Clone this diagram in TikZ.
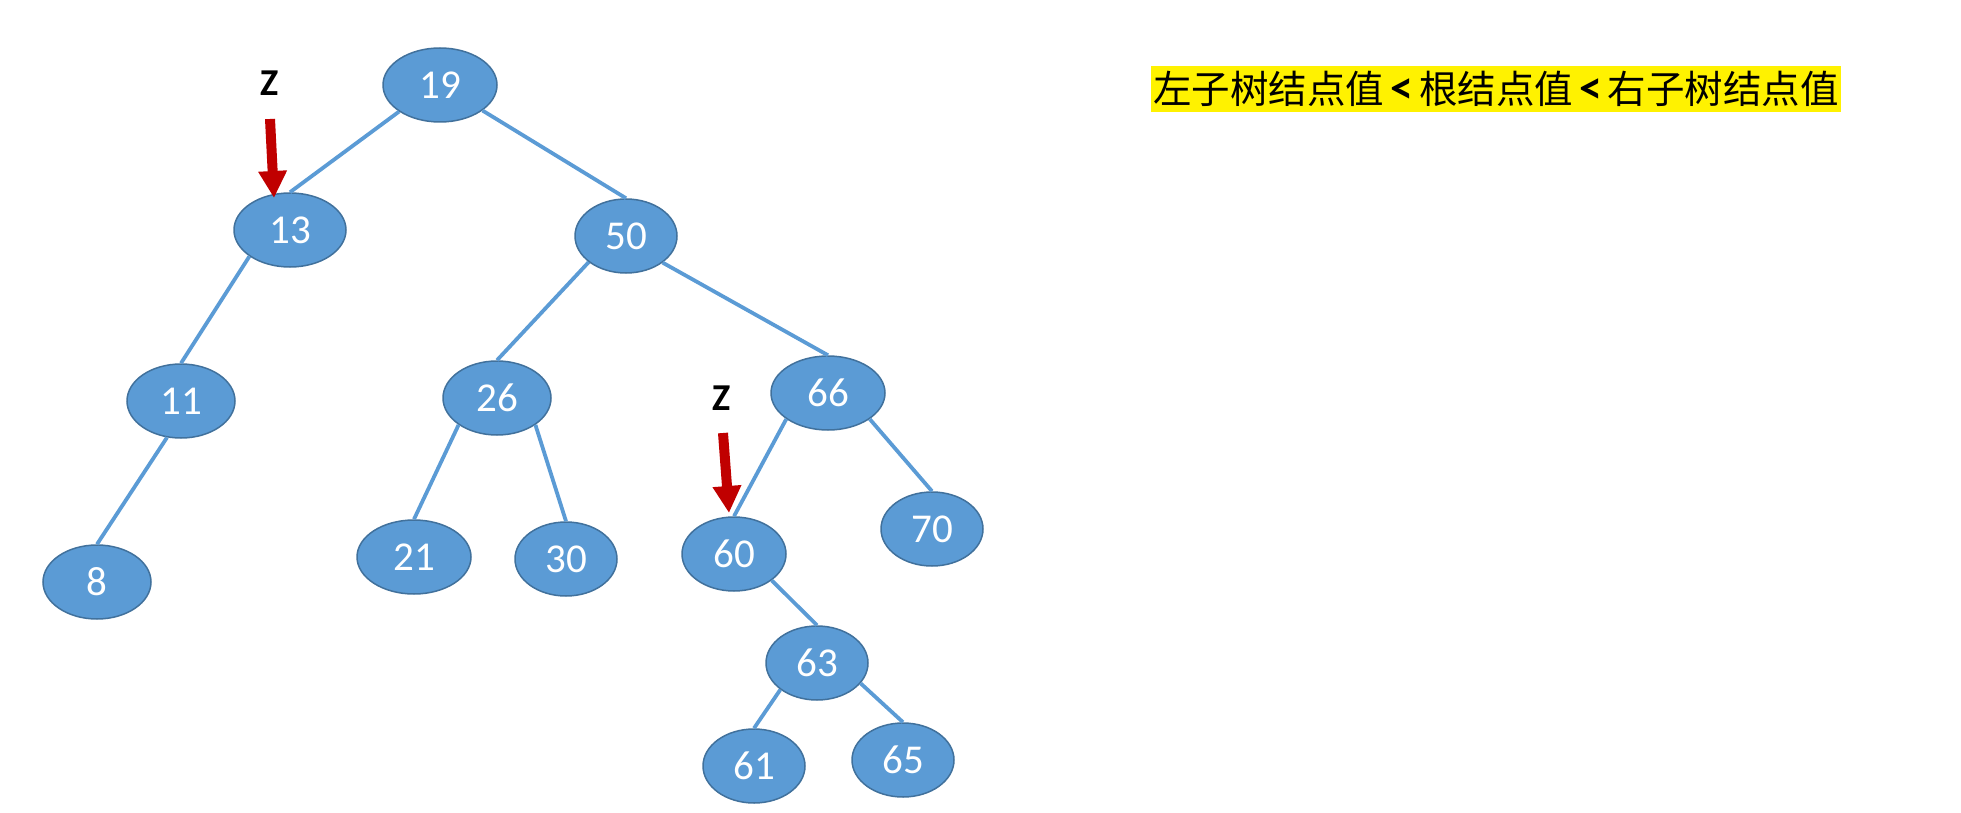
\documentclass[tikz,border=0pt]{standalone}
\usepackage{fontspec}
\setmainfont{Carlito}
\newfontfamily\cjk{Noto Sans CJK SC}
\usetikzlibrary{shapes.geometric,arrows.meta}
\definecolor{nodefill}{HTML}{5B9BD5}
\definecolor{nodeedge}{HTML}{41719C}
\definecolor{zred}{HTML}{C00000}
\tikzset{
  tn/.style={ellipse, fill=nodefill, draw=nodeedge, line width=1.5pt, inner sep=0pt,
    minimum height=74pt, text=white, font=\fontsize{41}{41}\selectfont},
  edge/.style={draw=nodefill, line width=3.8pt},
  zarrow/.style={draw=zred, line width=10pt, -{Triangle[width=27pt,length=27pt]}, zred},
  zlabel/.style={font=\fontsize{38}{38}\selectfont\bfseries, text=black, inner sep=0pt}
}
\begin{document}
\begin{tikzpicture}[x=1pt,y=-1pt]
\useasboundingbox (0,0) rectangle (1961,813);
% nodes
\node[tn, minimum width=114pt] (n19) at (440,85) {19};
\node[tn, minimum width=112pt] (n13) at (290,230) {13};
\node[tn, minimum width=102pt] (n50) at (626,236) {50};
\node[tn, minimum width=108pt] (n11) at (181,401) {11};
\node[tn, minimum width=108pt] (n26) at (497,398) {26};
\node[tn, minimum width=114pt] (n66) at (828,393) {66};
\node[tn, minimum width=108pt] (n8) at (97,582) {8};
\node[tn, minimum width=114pt] (n21) at (414,557) {21};
\node[tn, minimum width=102pt] (n30) at (566,559) {30};
\node[tn, minimum width=104pt] (n60) at (734,554) {60};
\node[tn, minimum width=102pt] (n70) at (932,529) {70};
\node[tn, minimum width=102pt] (n63) at (817,663) {63};
\node[tn, minimum width=102pt] (n61) at (754,766) {61};
\node[tn, minimum width=102pt] (n65) at (903,760) {65};
% edges
\path[edge] (n19.-147) -- (n13.north);
\path[edge] (n19.-31) -- (n50.north);
\path[edge] (n13.-147) -- (n11.north);
\path[edge] (n11.-111) -- (n8.north);
\path[edge] (n50.-145) -- (n26.north);
\path[edge] (n50.-36) -- (n66.north);
\path[edge] (n26.-145) -- (n21.north);
\path[edge] (n26.-35) -- (n30.north);
\path[edge] (n66.-148) -- (n60.north);
\path[edge] (n66.-32) -- (n70.north);
\path[edge] (n60.-35) -- (n63.north);
\path[edge] (n63.-144) -- (n61.north);
\path[edge] (n63.-25) -- (n65.north);
% Z labels and arrows
\node[zlabel] (z1) at (269.5,83.5) {Z};
\coordinate (a1s) at (270,119);
\coordinate (a1e) at (274,198);
\draw[zarrow] (a1s) -- (a1e);
\node[zlabel] (z2) at (722,398) {Z};
\coordinate (a2s) at (723,433);
\coordinate (a2e) at (729,513);
\draw[zarrow] (a2s) -- (a2e);
% highlighted text
\node[fill=yellow, minimum width=690pt, minimum height=46pt, inner sep=0pt,
  font=\fontsize{38.5}{38.5}\selectfont] (rule) at (1496,89)
  {\cjk 左子树结点值\hspace{6pt}{\normalfont\fontsize{46}{46}\selectfont\bfseries<}\hspace{6pt}根结点值\hspace{6pt}{\normalfont\fontsize{46}{46}\selectfont\bfseries<}\hspace{6pt}右子树结点值};
\end{tikzpicture}
\end{document}
